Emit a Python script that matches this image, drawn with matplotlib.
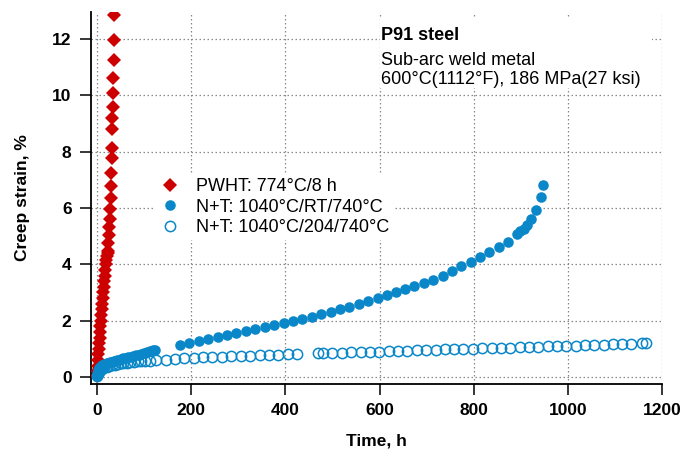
import matplotlib
matplotlib.use("Agg")
import matplotlib.pyplot as plt
from matplotlib.patches import Rectangle

plt.rcParams["font.family"] = ["Liberation Sans", "DejaVu Sans"]

# PWHT: 774°C/8 h
pwht_t = [0.2, 0.6, 1.2, 1.9, 2.7, 3.5, 4.4, 5.3, 6.2, 7.1, 8.0, 9.0, 10.0,
          11.0, 12.0, 13.1, 14.2, 15.3, 16.4, 17.5, 18.7, 19.9, 21.1, 22.2,
          23.1, 23.8, 25.3, 25.9, 26.7, 27.4, 28.9, 29.5, 30.1, 31.0, 31.6,
          32.3, 32.3, 33.1, 33.8, 34.4, 35.2, 35.9, 36.5]
pwht_e = [0.05, 0.2, 0.4, 0.6, 0.8, 1.0, 1.2, 1.4, 1.6, 1.8, 2.0, 2.2, 2.4,
          2.6, 2.8, 3.0, 3.2, 3.4, 3.6, 3.8, 4.0, 4.15, 4.3, 4.4,
          4.47, 4.74, 5.04, 5.32, 5.6, 5.96, 6.36, 6.77, 7.26, 7.79, 8.13,
          8.79, 9.18, 9.59, 10.1, 10.63, 11.24, 11.98, 12.87]

# N+T: 1040°C/RT/740°C
rt_t = [0, 0.5, 1, 2, 3, 4.5, 6, 8, 10, 12.5, 15, 18, 21, 24, 27, 31, 35, 39,
        43, 47, 51, 56, 61, 66, 71, 76, 82, 88, 94, 100, 106, 112, 118, 124,
        176, 196, 216, 236, 256, 276, 296, 316, 336, 356, 376, 396, 416, 436,
        456, 476, 496, 516, 536, 556, 576, 596, 615, 635, 654, 674, 694, 714,
        734, 754, 774, 794, 813, 833, 853, 872, 892, 899, 906, 913, 922, 933,
        942, 947]
rt_e = [0.05, 0.12, 0.18, 0.24, 0.29, 0.33, 0.36, 0.39, 0.41, 0.43, 0.45,
        0.47, 0.49, 0.51, 0.52, 0.54, 0.56, 0.58, 0.6, 0.62, 0.64, 0.66, 0.68,
        0.7, 0.72, 0.74, 0.77, 0.79, 0.81, 0.84, 0.87, 0.91, 0.94, 0.96,
        1.13, 1.22, 1.29, 1.35, 1.41, 1.48, 1.55, 1.63, 1.70, 1.77, 1.85, 1.93,
        2.0, 2.06, 2.14, 2.23, 2.32, 2.4, 2.49, 2.59, 2.68, 2.82, 2.91, 3.0,
        3.11, 3.22, 3.33, 3.46, 3.6, 3.76, 3.94, 4.1, 4.27, 4.43, 4.61, 4.81,
        5.07, 5.18, 5.27, 5.41, 5.61, 5.93, 6.39, 6.83]

# N+T: 1040°C/204/740°C
t204_t = [0, 1, 3, 6, 10, 15, 20, 26, 32, 38, 44, 50, 56, 63, 70, 78, 86, 94,
          102, 112, 126, 146, 165, 185, 205, 225, 245, 265, 285, 305, 325,
          345, 365, 385, 405, 424, 470, 479, 499, 520, 540, 560, 580, 599,
          619, 639, 659, 679, 699, 719, 738, 758, 778, 798, 818, 838, 857,
          877, 898, 917, 937, 957, 977, 997, 1017, 1036, 1056, 1076, 1096,
          1116, 1135, 1158, 1165]
t204_e = [0.02, 0.1, 0.18, 0.25, 0.3, 0.34, 0.37, 0.4, 0.42, 0.44, 0.46, 0.48,
          0.49, 0.51, 0.52, 0.53, 0.55, 0.56, 0.57, 0.58, 0.6, 0.61, 0.64,
          0.66, 0.68, 0.7, 0.71, 0.72, 0.73, 0.74, 0.76, 0.77, 0.78, 0.79,
          0.8, 0.82, 0.84, 0.84, 0.85, 0.86, 0.87, 0.89, 0.9, 0.9, 0.91, 0.92,
          0.93, 0.94, 0.96, 0.97, 0.98, 0.98, 0.99, 1.0, 1.02, 1.03, 1.04,
          1.04, 1.05, 1.06, 1.07, 1.09, 1.1, 1.1, 1.11, 1.12, 1.13, 1.15, 1.16,
          1.17, 1.18, 1.2, 1.2]

red = "#cc0000"
blue = "#0a87c9"

fig = plt.figure(figsize=(6.95, 4.49), dpi=100)
ax = fig.add_axes([91 / 695, 1 - 384 / 449, 571 / 695, 372 / 449])

h_pwht, = ax.plot(pwht_t, pwht_e, "D", color=red, ms=6.8, mew=0, zorder=3,
                  label="PWHT: 774°C/8 h")
h_204, = ax.plot(t204_t, t204_e, "o", mfc="none", mec=blue, ms=7.4, mew=1.1,
                 zorder=3, label="N+T: 1040°C/204/740°C")
h_rt, = ax.plot(rt_t, rt_e, "o", color=blue, ms=7.6, mew=0, zorder=4,
                label="N+T: 1040°C/RT/740°C")

ax.set_xlim(-13, 1200)
ax.set_ylim(-0.25, 12.96)
ax.set_xticks(range(0, 1201, 200))
ax.set_yticks(range(0, 13, 2))
ax.grid(True, color="#888888", linestyle=(0, (1.2, 2)), linewidth=0.9)
ax.set_axisbelow(True)
for s in ["top", "right"]:
    ax.spines[s].set_visible(False)
for s in ["left", "bottom"]:
    ax.spines[s].set_linewidth(1.3)
ax.tick_params(direction="out", length=8, width=1.1, labelsize=12.5, pad=6)
for lab in ax.get_xticklabels() + ax.get_yticklabels():
    lab.set_fontweight("bold")

ax.set_xlabel("Time, h", fontsize=12.5, fontweight="bold", labelpad=11)
ax.set_ylabel("Creep strain, %", fontsize=12.5, fontweight="bold", labelpad=16)

leg = ax.legend(handles=[h_pwht, h_rt, h_204], loc="upper left",
                bbox_to_anchor=(0.097, 0.588), fontsize=13, frameon=True,
                framealpha=1, edgecolor="none", fancybox=False,
                handletextpad=0.85, labelspacing=0.2, borderpad=0.2,
                handlelength=1.2)
leg.set_zorder(5)

# white box behind the test conditions
ax.add_patch(Rectangle((0.506, 0.796), 0.476, 0.191, transform=ax.transAxes,
                       facecolor="white", edgecolor="none", zorder=2))
ax.text(0.508, 0.936, "P91 steel", transform=ax.transAxes, fontsize=13,
        fontweight="bold", va="center", zorder=6)
ax.text(0.508, 0.843, "Sub-arc weld metal\n600°C(1112°F), 186 MPa(27 ksi)",
        transform=ax.transAxes, fontsize=13, va="center", linespacing=1.16,
        zorder=6)

fig.savefig("out.png", dpi=100)
